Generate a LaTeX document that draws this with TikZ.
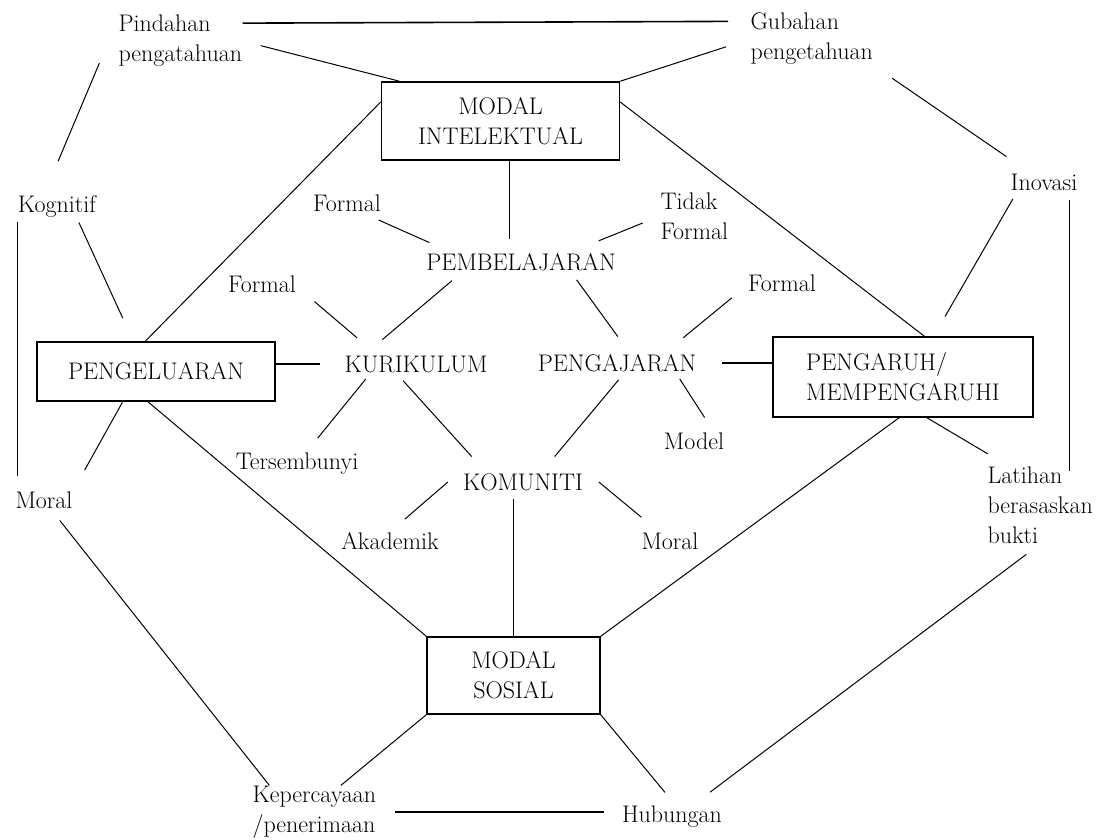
\documentclass[tikz,border=0pt]{standalone}
\tikzset{every picture/.style={line width=0.75pt}}
\tikzset{
  lbl/.style={inner sep=0pt, font=\fontsize{18}{22.5}\selectfont},
  box/.style={draw, line width=1.2pt, inner sep=4pt, align=center, font=\fontsize{18}{22.5}\selectfont},
}
\begin{document}
\begin{tikzpicture}[x=0.75pt,y=0.75pt,yscale=-1,xscale=1]
		\useasboundingbox (0,0) rectangle (1109,839);
		
		%Shape: boxes
		\node[box, minimum width=178.5pt, minimum height=58.5pt] (mi) at (500.5,121) {MODAL\\INTELEKTUAL};
		\node[box, minimum width=178.5pt, minimum height=44.25pt] (pengel) at (156,371.5) {PENGELUARAN};
		\node[box, align=left, minimum width=195pt, minimum height=60pt] (pengaruh) at (903,377) {PENGARUH/\\MEMPENGARUHI};
		\node[box, minimum width=129.75pt, minimum height=57.75pt] (ms) at (513.5,675.5) {MODAL\\SOSIAL};
		
		%Labels
		\node[lbl, anchor=west, align=left] (pind) at (118,41) {Pindahan\\pengatahuan};
		\node[lbl, anchor=west, align=left] (gub) at (750,39) {Gubahan\\pengetahuan};
		\node[lbl] (kog) at (57,207) {Kognitif};
		\node[lbl] (inov) at (1044,182) {Inovasi};
		\node[lbl] (f1) at (347,203) {Formal};
		\node[lbl, anchor=west, align=left] (tf) at (660,216) {Tidak\\Formal};
		\node[lbl] (pemb) at (521,262) {PEMBELAJARAN};
		\node[lbl] (f2) at (262,284) {Formal};
		\node[lbl] (f3) at (782,283) {Formal};
		\node[lbl] (kur) at (416,364) {KURIKULUM};
		\node[lbl] (peng) at (617,363) {PENGAJARAN};
		\node[lbl] (model) at (694,441) {Model};
		\node[lbl] (ters) at (297,464) {Tersembunyi};
		\node[lbl] (moral1) at (44,500) {Moral};
		\node[lbl] (kom) at (523,482) {KOMUNITI};
		\node[lbl, anchor=west, align=left] (lat) at (987,505) {Latihan\\berasaskan\\bukti};
		\node[lbl] (akad) at (390,541) {Akademik};
		\node[lbl] (moral2) at (670,541) {Moral};
		\node[lbl, anchor=west, align=left] (kep) at (252,812) {Kepercayaan\\/penerimaan};
		\node[lbl] (hub) at (672,817) {Hubungan};
		
		%Outer ring
		\draw[line width=1.2pt, shorten >=16.5pt] (pind.16) -- (gub.164);
		\draw[shorten <=14pt] (pind.east) -- ([xshift=14pt]mi.north west);
		\draw[shorten <=19pt] (gub.west) -- (mi.north east);
		\draw[shorten <=28pt, shorten >=18pt] ([xshift=-10pt]kog.north) -- ([xshift=-7pt]pind.west);
		\draw[shorten <=17pt, shorten >=22pt] (gub.south east) -- ([xshift=-10pt]inov.north);
		\draw[shorten <=3.5pt, shorten >=19pt] ([xshift=15pt]kog.south) -- ([xshift=-17pt]pengel.north);
		\draw[shorten <=3pt, shorten >=11pt] (kog.south west) -- (kog.south west |- moral1.north);
		\draw[shorten <=7pt, shorten >=-4pt] ([xshift=-6pt]inov.south east) -- ([xshift=-6pt]inov.south east |- lat.north);
		\draw[shorten <=7pt, shorten >=17pt] ([xshift=5.5pt]inov.south west) -- ([xshift=23pt]pengaruh.north);
		\draw (mi.171) -- ([xshift=-8pt]pengel.north);
		\draw (mi.9) -- ([xshift=16pt]pengaruh.north);
		\draw[shorten >=18pt] ([xshift=-25pt]pengel.south) -- (moral1.north east);
		\draw ([xshift=-6pt]pengel.south) -- (ms.north west);
		\draw[shorten <=11pt] ([xshift=5pt]moral1.south) -- ([xshift=13pt]kep.north west);
		\draw ([xshift=-3pt]pengaruh.south) -- (ms.north east);
		\draw[shorten >=18pt] ([xshift=18pt]pengaruh.south) -- ([xshift=16pt]lat.north west);
		\draw[shorten <=13pt, shorten >=17pt] (lat.south) -- ([xshift=15pt]hub.north);
		\draw (ms.south west) -- ([xshift=20pt]kep.north);
		\draw[shorten >=13pt] (ms.south east) -- ([xshift=3pt]hub.north);
		\draw[line width=1.2pt, shorten <=13.5pt, shorten >=13pt] (kep.east) -- (hub.west |- kep.east);
		
		%Inner star
		\draw[shorten >=10pt] ([xshift=7pt]mi.south) -- ([xshift=7pt]mi.south |- pemb.north);
		\draw[shorten <=15pt, shorten >=19pt] ([xshift=10pt]f1.south) -- ([xshift=20pt]pemb.north west);
		\draw[shorten <=14pt, shorten >=24pt] (tf.west) -- ([xshift=36pt]pemb.north);
		\draw[shorten <=11pt, shorten >=18pt] ([xshift=28pt]pemb.south west) -- ([xshift=-39pt]kur.north);
		\draw[shorten <=8pt, shorten >=16pt] ([xshift=37pt]pemb.south) -- ([xshift=10pt]peng.north);
		\draw[shorten <=10pt, shorten >=20pt] ([xshift=6pt]f2.south east) -- ([xshift=-29pt]kur.north);
		\draw[shorten <=7pt, shorten >=19pt] ([xshift=-6.5pt]f3.south west) -- ([xshift=35pt]peng.north);
		\draw[line width=1.2pt, shorten >=18pt] (pengel.east |- kur.west) -- (kur.west);
		\draw[line width=1.2pt, shorten <=19pt] (peng.east) -- (pengaruh.west |- peng.east);
		\draw[shorten <=6pt, shorten >=14pt] ([xshift=20pt]kur.south west) -- ([xshift=6.6pt]ters.north);
		\draw[shorten <=8pt, shorten >=16.5pt] ([xshift=-15pt]kur.south) -- ([xshift=18pt]kom.north west);
		\draw[shorten <=7.5pt, shorten >=16pt] ([xshift=6pt]peng.south) -- ([xshift=13.5pt]kom.north);
		\draw[shorten <=6pt, shorten >=13pt] ([xshift=-16pt]peng.south east) -- ([xshift=15pt]model.north);
		\draw[shorten >=14.7pt] ([xshift=-11pt]kom.west) -- (akad.north);
		\draw[shorten >=17.5pt] ([xshift=11.5pt]kom.east) -- ([xshift=-8pt]moral2.north);
		\draw[shorten <=6pt] (ms.north |- kom.south) -- (ms.north);
		
	\end{tikzpicture}
\end{document}
